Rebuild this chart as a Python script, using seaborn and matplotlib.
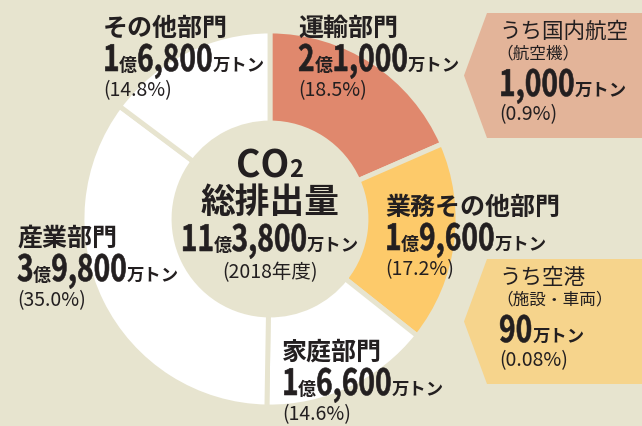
#!/usr/bin/env python3
# -*- coding: utf-8 -*-

# Bibliotecas
import numpy as np
import pandas as pd
import seaborn as sns
import matplotlib.pyplot as plt
from matplotlib.patches import Polygon, PathPatch
from matplotlib.textpath import TextPath
from matplotlib.font_manager import FontProperties
from matplotlib.transforms import Affine2D

# Dados (万トン, 2018年度)
v_setores = ['運輸部門', '業務その他部門', '家庭部門', '産業部門', 'その他部門']
v_emissoes = [21000, 19600, 16600, 39800, 16800]
v_total = 113800
v_cores = ['#e0886d', '#fdca6a', '#ffffff', '#ffffff', '#ffffff']

# Destaques (caixas à direita)
v_dest_titulos = ['うち国内航空', 'うち空港']
v_dest_sub = ['（航空機）', '（施設・車両）']
v_dest_valores = ['1,000', '90']
v_dest_pct = ['(0.9%)', '(0.08%)']
v_dest_cores = ['#e3b499', '#f6d48c']

df = pd.DataFrame({'setor': v_setores, 'emissao': v_emissoes, 'cor': v_cores})
df['pct'] = df['emissao'] / df['emissao'].sum() * 100

# Configuração
sns.set_style('white')
v_fundo = '#e7e4cf'
v_texto = '#231f20'
v_fam = ['Noto Sans CJK JP', 'DejaVu Sans']
plt.rcParams['font.family'] = v_fam

fig = plt.figure(figsize=(6.42, 4.26), dpi=100, facecolor=v_fundo)
ax = fig.add_axes([0, 0, 1, 1])
ax.set_facecolor(v_fundo)

H = 426
cx, cy = 270, H - 219

ax.pie(df['emissao'], colors=df['cor'], startangle=90, counterclock=False,
       center=(cx, cy), radius=188,
       wedgeprops=dict(width=92, edgecolor=v_fundo, linewidth=3.5))
ax.set_xlim(0, 642)
ax.set_ylim(0, H)
ax.set_aspect('equal')
ax.axis('off')

renderer = fig.canvas.get_renderer()
v_sx = 0.78  # compressão horizontal dos números grandes


def largura(s, size, w, num):
    if num:
        tp = TextPath((0, 0), s, size=size * 100 / 72, prop=FontProperties(family='Noto Sans CJK JP', weight='bold'))
        return (tp.get_extents().x1 + 1.5) * v_sx
    fp = FontProperties(family=v_fam, weight=w, size=size)
    return renderer.get_text_width_height_descent(s, fp, ismath=False)[0]


def linha(x, y, partes, ha='left'):
    # partes: (texto, tamanho, peso, numero_grande)
    v_larg = [largura(*p) for p in partes]
    px = x - sum(v_larg) / 2 if ha == 'center' else x
    for (s, size, w, num), lw in zip(partes, v_larg):
        if num:
            tp = TextPath((0, 0), s, size=size * 100 / 72,
                          prop=FontProperties(family='Noto Sans CJK JP', weight='bold'))
            path = Affine2D().scale(v_sx, 1).translate(px, H - y).transform_path(tp)
            ax.add_patch(PathPatch(path, facecolor=v_texto, edgecolor=v_texto, lw=0.4, zorder=3))
        else:
            ax.text(px, H - y, s, fontsize=size, fontweight=w, family=v_fam,
                    color=v_texto, ha='left', va='baseline', zorder=3)
        px += lw


def valor(v):
    oku, man = divmod(v, 10000)
    return str(oku), f'{man:,}'


# Posições dos rótulos (x esquerda, baseline do título)
v_pos = {'運輸部門': (298, 36), '業務その他部門': (385, 215), '家庭部門': (282, 360),
         '産業部門': (17, 246), 'その他部門': (103, 36)}

for _, r in df.iterrows():
    x, y = v_pos[r['setor']]
    oku, man = valor(r['emissao'])
    linha(x, y, [(r['setor'], 18, 'bold', False)])
    linha(x, y + 35, [(oku, 26, 'bold', True), ('億', 13, 'bold', False),
                      (man, 26, 'bold', True), ('万トン', 12.5, 'bold', False)])
    linha(x, y + 60, [(f"({r['pct']:.1f}%)", 14, 'normal', False)])

# Centro
linha(cx, 177, [('CO', 27, 'bold', False), ('2', 17, 'bold', False)], ha='center')
linha(cx, 213, [('総排出量', 25, 'bold', False)], ha='center')
oku, man = valor(v_total)
linha(cx, 251, [(oku, 26, 'bold', True), ('億', 13, 'bold', False),
                (man, 26, 'bold', True), ('万トン', 12.5, 'bold', False)], ha='center')
linha(cx, 278, [('(2018年度)', 14, 'normal', False)], ha='center')

# Caixas de destaque
v_caixas = [(13, 138), (259, 384)]
for i, (top, bot) in enumerate(v_caixas):
    mid = (top + bot) / 2
    pts = [(487, H - top), (642, H - top), (642, H - bot), (487, H - bot), (464, H - mid)]
    ax.add_patch(Polygon(pts, closed=True, facecolor=v_dest_cores[i], edgecolor='none', zorder=1))
    linha(499, top + 25, [(v_dest_titulos[i], 15.5, 'normal', False)])
    linha(496, top + 45, [(v_dest_sub[i], 12, 'normal', False)])
    linha(499, top + 83, [(v_dest_valores[i], 26, 'bold', True), ('万トン', 12.5, 'bold', False)])
    linha(499, top + 107, [(v_dest_pct[i], 14, 'normal', False)])

plt.savefig('out.png', dpi=100, facecolor=v_fundo)
